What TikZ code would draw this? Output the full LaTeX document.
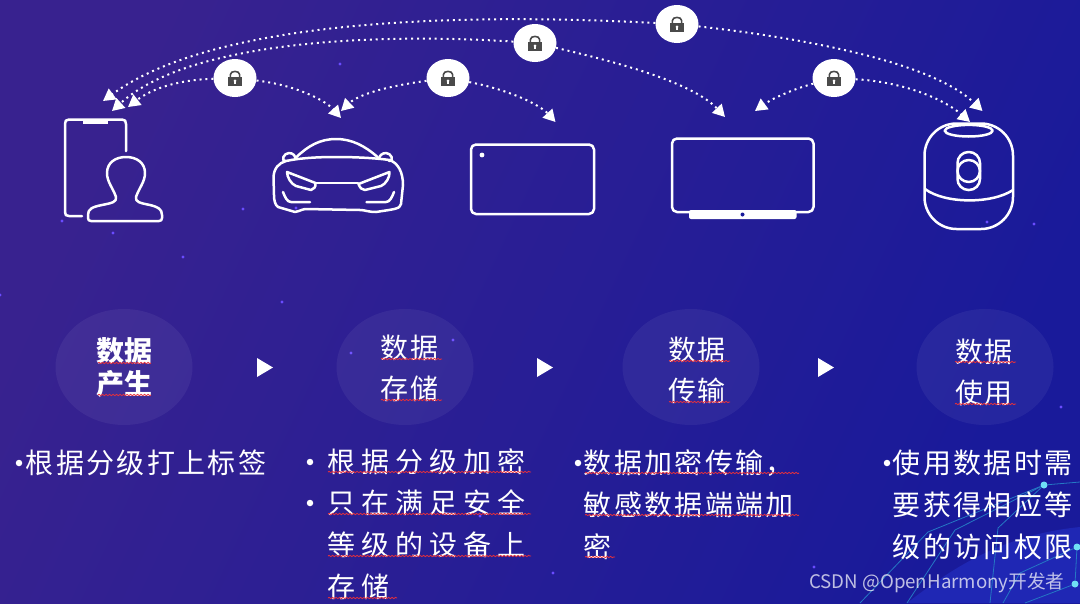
\documentclass[tikz,border=0pt]{standalone}
\usepackage{fontspec}
\setmainfont{Noto Sans CJK SC}
\newfontfamily\cjkn[LetterSpace=8.5]{Noto Sans CJK SC}
\newfontfamily\cjkw[LetterSpace=21]{Noto Sans CJK SC}
\newfontfamily\cjkh[LetterSpace=6]{Noto Sans CJK SC}
\usetikzlibrary{arrows.meta,shapes.geometric,decorations.pathmorphing,shadows}
\definecolor{bgl}{HTML}{38228F}
\definecolor{bgm}{HTML}{281E94}
\definecolor{bgr}{HTML}{191A9A}
\definecolor{globe}{HTML}{1F27B4}
\definecolor{netc}{HTML}{2578C4}
\definecolor{netn}{HTML}{6FE0F5}
\definecolor{star}{HTML}{6A4CFF}
\definecolor{lockc}{HTML}{4A4A4A}
\definecolor{wavec}{HTML}{E8303A}
\tikzset{
  icon/.style={draw=white,line width=2.5pt,line join=round,line cap=round},
  lockn/.style={shape=ellipse,fill=white,minimum width=43pt,minimum height=38pt,inner sep=0pt},
  arr/.style={white,line width=2pt,dash pattern=on 2pt off 3.9pt,-{Triangle[length=12pt,width=13pt]}},
  stagebg/.style={shape=ellipse,fill=white,fill opacity=0.055,minimum width=137pt,minimum height=116pt,inner sep=0pt},
  head/.style={text=white,font=\fontsize{28}{28}\selectfont\cjkh,inner sep=0pt},
  headb/.style={text=white,font=\fontsize{28}{28}\selectfont\bfseries,inner sep=0pt},
  bodyn/.style={text=white,anchor=west,inner sep=0pt,font=\fontsize{28}{28}\selectfont\cjkn},
  bodyw/.style={text=white,anchor=west,inner sep=0pt,font=\fontsize{28}{28}\selectfont\cjkw},
  bult/.style={shape=circle,fill=white,minimum size=6.5pt,inner sep=0pt},
  playt/.style={fill=white},
  wavy/.style={draw=wavec,line width=0.8pt,decorate,decoration={snake,amplitude=0.7pt,segment length=3.5pt}},
  net/.style={draw=netc,line width=0.8pt},
  netnode/.style={shape=circle,fill=netn,minimum size=7pt,inner sep=0pt},
  lockicon/.pic={
    \draw[lockc,line width=1.6pt] (-4.6,-1) -- (-4.6,-3.5) .. controls (-4.6,-7.6) and (4.6,-7.6) .. (4.6,-3.5) -- (4.6,-1);
    \fill[lockc] (-7,-1.5) rectangle (7,8);
    \fill[white] (0,2.8) circle (1.5);
    \fill[white] (-0.6,3) rectangle (0.6,5.6);
  },
}
\begin{document}
\begin{tikzpicture}[x=1pt,y=-1pt]
\useasboundingbox (0,0) rectangle (1080,603);
% background
\shade[left color=bgl,middle color=bgm,right color=bgr,shading angle=65] (0,0) rectangle (1080,603);
% globe and network
\fill[globe] (907,603) .. controls (950,570) and (1000,535) .. (1080,527) -- (1080,603) -- cycle;
\coordinate (n1a) at (860,603); \coordinate (n1b) at (928,532);
\coordinate (n2a) at (907,603); \coordinate (n2b) at (955,530);
\coordinate (n3a) at (990,603); \coordinate (n3b) at (998,528);
\coordinate (n4a) at (1003,603); \coordinate (n4b) at (1020,573);
\coordinate (n5a) at (1080,482); \coordinate (n6a) at (1025,603);
\node[netnode] (nn1) at (1044,485) {};
\node[netnode] (nn2) at (1077,547) {};
\node[netnode] (nn3) at (1075,584) {};
\draw[net] (n1a) -- (n1b) -- (nn1);
\draw[net] (n2a) -- (n2b) -- (nn1);
\draw[net] (n3a) -- (n3b) -- (nn1);
\draw[net] (nn1) -- (n5a);
\draw[net] (n4a) -- (n4b) -- (nn2);
\draw[net] (n6a) -- (nn3);
\draw[net] (nn2) -- (nn3);
% stars
\foreach \p in {(340,64),(296,208),(243,209),(113,233),(62,221),(1034,224),(987,222),(282,302),(453,340),(351,353),(480,516),(553,573),(814,567),(1061,407),(183,257),(0,295)}
  \fill[star] \p circle (1.6);
% icons
% phone
\draw[icon] (82,216) -- (69,216) .. controls (66,216) and (65,215) .. (65,212) -- (65,124) .. controls (65,121) and (66,119.5) .. (69,119.5) -- (122,119.5) .. controls (125,119.5) and (126,121) .. (126,124) -- (126,151);
\fill[white] (83,119) rectangle (108,123.5);
\draw[icon] (116,197) .. controls (113,188) and (107,182) .. (107,173) .. controls (107,163) and (115,157) .. (126,157) .. controls (137,157) and (145,163) .. (145,173) .. controls (145,182) and (139,188) .. (136,197) .. controls (135,202) and (140,203) .. (150,205) .. controls (158,207) and (162,209) .. (162,215) -- (162,218) .. controls (162,220) and (161,221) .. (159,221) -- (91,221) .. controls (89,221) and (88,220) .. (88,218) -- (88,215) .. controls (88,209) and (92,207) .. (102,205) .. controls (112,203) and (117,202) .. (116,197) -- cycle;
% car
\draw[icon] (296.5,157) .. controls (308,146) and (320,139) .. (336,139) .. controls (352,139) and (365,146) .. (377.5,157);
\draw[icon] (286,161) .. controls (280,161) and (284,153) .. (289,153) .. controls (293,153) and (296,156) .. (295,159);
\draw[icon] (379,159) .. controls (379,156) and (382,153) .. (386,153) .. controls (391,153) and (395,161) .. (389,161);
\draw[icon] (286,161) .. controls (300,158) and (318,157) .. (336,157) .. controls (355,157) and (375,158) .. (389.5,160) .. controls (398,163) and (403,172) .. (403,185) -- (401,204) .. controls (400,209) and (395,209) .. (376,212) .. controls (368,212) and (365,210) .. (360,210) -- (305,209) .. controls (300,210) and (298,212) .. (295,212) -- (278,207) .. controls (275,205) and (274,200) .. (274,195) -- (273.5,177) .. controls (274,168) and (279,163) .. (286,161) -- cycle;
\draw[icon] (287,172) -- (315.5,183) .. controls (316,187) and (314,189) .. (311,190) -- (296,186) .. controls (291,184) and (287,177) .. (287,172) -- cycle;
\draw[icon] (389.5,172) -- (358.5,184) .. controls (360,188) and (362,190) .. (365,190) -- (381,186) .. controls (386,184) and (390,177) .. (389.5,172) -- cycle;
\draw[icon] (316,183) -- (358,183);
\draw[icon] (283,192) .. controls (285,197) and (287,202) .. (291,202) -- (310,202);
\draw[icon] (394,192) .. controls (392,197) and (390,202) .. (386,202) -- (366.5,202);
% tablet
\draw[icon,rounded corners=5pt] (471,144.5) rectangle (594,214);
\fill[white] (482,155) circle (2.4);
% tv
\fill[white,rounded corners=2pt] (689,210) rectangle (796.5,219);
\draw[icon,rounded corners=5pt] (672,138.5) rectangle (813.5,212);
\fill[bgr] (742.5,214.5) circle (2);
% speaker
\draw[icon,rounded corners=32pt] (924.5,123.5) rectangle (1013,229);
\draw[icon] (968.7,130.7) ellipse (24 and 5.8);
\draw[icon,rounded corners=11pt] (957.5,152) rectangle (980,190);
\draw[icon] (968.7,171) ellipse (11.2 and 11);
\draw[icon] (925,189) .. controls (945,204) and (992,204) .. (1013,190);
% locks
\node[lockn] (la) at (235,78) {};
\node[lockn] (lb) at (448,78) {};
\node[lockn] (lc) at (535,43) {};
\node[lockn] (ld) at (677,24) {};
\node[lockn] (le) at (834,78) {};
\foreach \q in {la,lb,lc,ld,le} \pic at (\q) {lockicon};
% targets
\coordinate (t1) at (103,101);
\coordinate (t2) at (112,111);
\coordinate (t3) at (128,107);
\coordinate (t4) at (341,118);
\coordinate (t5) at (341,111);
\coordinate (t6) at (555.5,122);
\coordinate (t7) at (725,117);
\coordinate (t8) at (755,111);
\coordinate (t9) at (970,122);
\coordinate (t10) at (982.5,111);
\draw[arr] (ld) .. controls (400,10) and (200,30) .. (t1);
\draw[arr] (lc) .. controls (380,33) and (190,40) .. (t2);
\draw[arr] (la) .. controls (175,80) and (150,90) .. (t3);
\draw[arr] (la) .. controls (295,85) and (325,100) .. (t4);
\draw[arr] (lb) .. controls (395,85) and (360,93) .. (t5);
\draw[arr] (lb) .. controls (510,90) and (540,105) .. (t6);
\draw[arr] (lc) .. controls (630,65) and (695,85) .. (t7);
\draw[arr] (ld) .. controls (820,40) and (935,65) .. (t10);
\draw[arr] (le) .. controls (790,90) and (770,100) .. (t8);
\draw[arr] (le) .. controls (905,82) and (945,100) .. (t9);
% stage ellipses
\node[stagebg] (s1) at (124,367) {};
\node[stagebg] (s2) at (405,367) {};
\node[stagebg] (s3) at (691,367) {};
\node[stagebg] (s4) at (985,367) {};
% stage text
\node[headb] (h1a) at (124,350.5) {数据};
\node[headb] (h1b) at (124,383.5) {产生};
\node[head] (h2a) at (409.5,347.5) {数据};
\node[head] (h2b) at (409.5,388.5) {存储};
\node[head] (h3a) at (697,349.5) {数据};
\node[head] (h3b) at (697,390.5) {传输};
\node[head] (h4a) at (984,351.5) {数据};
\node[head] (h4b) at (984,392.5) {使用};
% play triangles
\fill[playt] (257,358) -- (273,367.5) -- (257,377) -- cycle;
\fill[playt] (537,358) -- (553,367.5) -- (537,377) -- cycle;
\fill[playt] (818,358) -- (834,367.5) -- (818,377) -- cycle;
% body
\node[bult] (b1) at (19,463) {};
\node[bodyn] (c1a) at (25.5,463) {根据分级打上标签};
\node[bult] (b2) at (310,462) {};
\node[bult] (b3) at (310,503) {};
\node[bodyw] (c2a) at (327.5,462) {根据分级加密};
\node[bodyw] (c2b) at (327.5,503) {只在满足安全};
\node[bodyw] (c2c) at (327.5,545) {等级的设备上};
\node[bodyw] (c2d) at (327.5,587) {存储};
\node[bult] (b4) at (578,463) {};
\node[bodyn] (c3a) at (583.5,463) {数据加密传输，};
\node[bodyn] (c3b) at (583.5,505) {敏感数据端端加};
\node[bodyn] (c3c) at (583.5,547) {密};
\node[bult] (b5) at (887,463) {};
\node[bodyn] (c4a) at (892.5,463) {使用数据时需};
\node[bodyn] (c4b) at (892.5,505) {要获得相应等};
\node[bodyn] (c4c) at (892.5,547) {级的访问权限};
% wavy spell-check underlines
\foreach \xa/\xb/\yy in {98/151/363,98/151/395,381/442/359,381/442/400,669/730/361,669/730/402,955/1016/362,955/1016/404,328/531/472,328/531/514,328/531/556,328/397/598,585/799/473,585/799/515,585/615/557}
  \draw[wavy] (\xa,\yy) -- (\xb,\yy);
% watermark
\node[text=white,text opacity=0.72,font=\fontsize{18.7}{19}\selectfont,inner sep=0pt] (wm) at (937,583) {CSDN @OpenHarmony开发者};
\end{tikzpicture}
\end{document}
